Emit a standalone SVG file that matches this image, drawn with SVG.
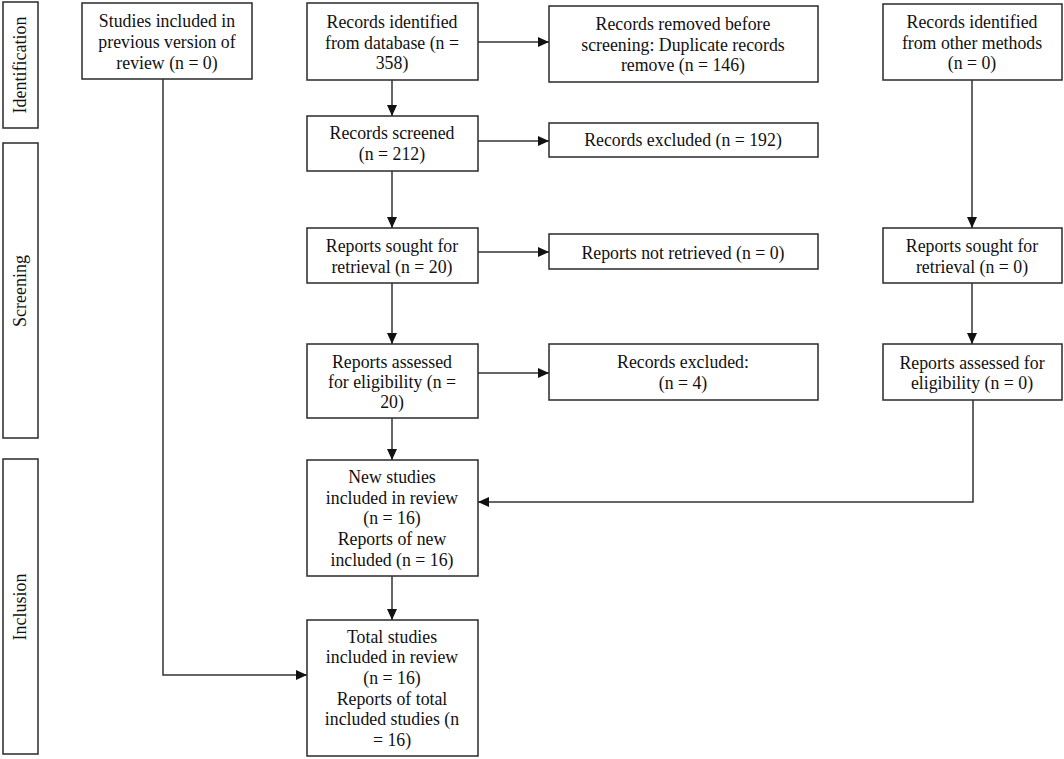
<svg xmlns="http://www.w3.org/2000/svg" width="1064" height="759" viewBox="0 0 1064 759">
<style>
rect{fill:#fff;stroke:#2a2a2a;stroke-width:1.5}
text{font-family:"Liberation Serif","Times New Roman",serif;font-size:17.8px;fill:#111;text-anchor:middle}
.s{font-size:18px}
.c{fill:none;stroke:#333;stroke-width:1.5}
</style>
<defs>
<marker id="a" viewBox="0 0 11 10" refX="11" refY="5" markerWidth="11" markerHeight="10" markerUnits="userSpaceOnUse" orient="auto">
<path d="M0,0L11,5L0,10z" fill="#111"/>
</marker>
</defs>
<g id="phase-identification"><rect x="3" y="2" width="35" height="126"/><text class="s" transform="translate(26,65) rotate(-90)">Identification</text></g>
<g id="phase-screening"><rect x="3" y="143" width="35" height="295"/><text class="s" transform="translate(26,291) rotate(-90)">Screening</text></g>
<g id="phase-inclusion"><rect x="3" y="459" width="35" height="295"/><text class="s" transform="translate(26,607) rotate(-90)">Inclusion</text></g>

<g id="n-prev"><rect x="82" y="3" width="170" height="76"/><text x="167" y="27">Studies included in</text><text x="167" y="48">previous version of</text><text x="167" y="69">review (n = 0)</text></g>
<g id="n-db"><rect x="307" y="3" width="171" height="77"/><text x="392" y="28">Records identified</text><text x="392" y="49">from database (n =</text><text x="392" y="69">358)</text></g>
<g id="n-removed"><rect x="549" y="6" width="269" height="76"/><text x="683" y="30">Records removed before</text><text x="683" y="51">screening: Duplicate records</text><text x="683" y="71">remove (n = 146)</text></g>
<g id="n-other"><rect x="883" y="4" width="179" height="76"/><text x="972" y="28">Records identified</text><text x="972" y="49">from other methods</text><text x="972" y="69">(n = 0)</text></g>
<g id="n-screened"><rect x="307" y="116" width="171" height="55"/><text x="392" y="139">Records screened</text><text x="392" y="160">(n = 212)</text></g>
<g id="n-excl192"><rect x="549" y="123" width="269" height="34"/><text x="683" y="146">Records excluded (n = 192)</text></g>
<g id="n-sought"><rect x="307" y="228" width="171" height="55"/><text x="392" y="252">Reports sought for</text><text x="392" y="273">retrieval (n = 20)</text></g>
<g id="n-notret"><rect x="549" y="234" width="269" height="35"/><text x="683" y="259">Reports not retrieved (n = 0)</text></g>
<g id="n-sought-o"><rect x="883" y="228" width="179" height="55"/><text x="972" y="252">Reports sought for</text><text x="972" y="273">retrieval (n = 0)</text></g>
<g id="n-assessed"><rect x="307" y="344" width="171" height="74"/><text x="392" y="368">Reports assessed</text><text x="392" y="388">for eligibility (n =</text><text x="392" y="408">20)</text></g>
<g id="n-excl4"><rect x="549" y="344" width="269" height="56"/><text x="683" y="368">Records excluded:</text><text x="683" y="389">(n = 4)</text></g>
<g id="n-assessed-o"><rect x="883" y="344" width="179" height="56"/><text x="972" y="369">Reports assessed for</text><text x="972" y="389">eligibility (n = 0)</text></g>
<g id="n-new"><rect x="307" y="460" width="171" height="116"/><text x="392" y="483">New studies</text><text x="392" y="504">included in review</text><text x="392" y="524">(n = 16)</text><text x="392" y="545">Reports of new</text><text x="392" y="566">included (n = 16)</text></g>
<g id="n-total"><rect x="307" y="620" width="171" height="136"/><text x="392" y="643">Total studies</text><text x="392" y="663">included in review</text><text x="392" y="684">(n = 16)</text><text x="392" y="705">Reports of total</text><text x="392" y="725">included studies (n</text><text x="392" y="746">= 16)</text></g>

<g id="connectors">
<path class="c" d="M478,42H549" marker-end="url(#a)"/>
<path class="c" d="M392,80V116" marker-end="url(#a)"/>
<path class="c" d="M478,141H549" marker-end="url(#a)"/>
<path class="c" d="M392,171V228" marker-end="url(#a)"/>
<path class="c" d="M478,252H549" marker-end="url(#a)"/>
<path class="c" d="M392,283V344" marker-end="url(#a)"/>
<path class="c" d="M478,373H549" marker-end="url(#a)"/>
<path class="c" d="M392,418V460" marker-end="url(#a)"/>
<path class="c" d="M392,576V620" marker-end="url(#a)"/>
<path class="c" d="M972,80V228" marker-end="url(#a)"/>
<path class="c" d="M972,283V344" marker-end="url(#a)"/>
<path class="c" d="M973,400V502H478" marker-end="url(#a)"/>
<path class="c" d="M163,79V675H307" marker-end="url(#a)"/>
</g>
</svg>
